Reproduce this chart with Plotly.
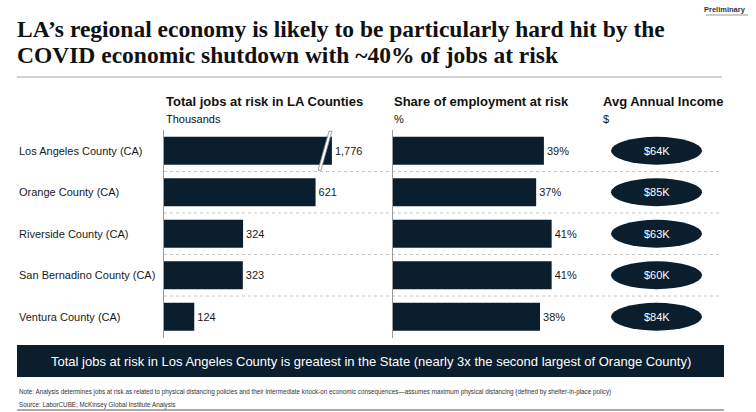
import plotly.graph_objects as go

# ---------------- data ----------------
counties = ["Los Angeles County (CA)", "Orange County (CA)", "Riverside County (CA)",
            "San Bernadino County (CA)", "Ventura County (CA)"]
jobs_at_risk_k = [1776, 621, 324, 323, 124]          # thousands
share_at_risk_pct = [39, 37, 41, 41, 38]             # %
avg_income_k = [64, 85, 63, 60, 84]                  # $K

title_lines = ["LA\u2019s regional economy is likely to be particularly hard hit by the",
               "COVID economic shutdown with ~40% of jobs at risk"]
headers = ["Total jobs at risk in LA Counties", "Share of employment at risk", "Avg Annual Income"]
units = ["Thousands", "%", "$"]
callout = ("Total jobs at risk in Los Angeles County is greatest in the State "
           "(nearly 3x the second largest of Orange County)")
note = ("Note: Analysis determines jobs at risk as related to physical distancing policies and their "
        "intermediate knock-on economic consequences\u2014assumes maximum physical distancing "
        "(defined by shelter-in-place policy)")
source = "Source: LaborCUBE; McKinsey Global Institute Analysis"

# ---------------- style ----------------
W, H = 756, 412
NAVY = "#0b1e2d"
TEXT = "#1a1a1a"
SANS = "Liberation Sans, Arial, sans-serif"
SERIF = "Liberation Serif, Times New Roman, serif"
BREAK_CAP = 688       # axis break: longest bar is drawn truncated here


def px(x):
    return x / W


def py(y):
    return 1 - y / H


rows = list(range(len(counties)))
display_jobs = [min(v, BREAK_CAP) for v in jobs_at_risk_k]

fig = go.Figure()

fig.add_trace(go.Bar(
    y=rows, x=display_jobs, orientation="h", xaxis="x", yaxis="y",
    marker=dict(color=NAVY, line=dict(width=0)), width=0.675,
    text=[f"{v:,}" for v in jobs_at_risk_k], textposition="outside",
    textfont=dict(family=SANS, size=11, color=TEXT), cliponaxis=False,
    constraintext="none", showlegend=False, hoverinfo="skip"))

fig.add_trace(go.Bar(
    y=rows, x=share_at_risk_pct, orientation="h", xaxis="x2", yaxis="y2",
    marker=dict(color=NAVY, line=dict(width=0)), width=0.675,
    text=[f"{v}%" for v in share_at_risk_pct], textposition="outside",
    textfont=dict(family=SANS, size=11, color=TEXT), cliponaxis=False,
    constraintext="none", showlegend=False, hoverinfo="skip"))

ydom = [py(337.5), py(130)]
yax = dict(domain=ydom, range=[4.5, -0.5], showgrid=False, zeroline=False,
           showticklabels=False, ticks="", showline=True, linecolor="#9a9a9a", linewidth=1)
xax = dict(showgrid=False, zeroline=False, showticklabels=False, ticks="", showline=False)

annotations = []
shapes = []

# title
for i, (line, cy) in enumerate(zip(title_lines, [29, 55])):
    annotations.append(dict(x=px(15), y=py(cy), xref="paper", yref="paper", xanchor="left",
                            yanchor="middle", showarrow=False, text=f"<b>{line}</b>",
                            font=dict(family=SERIF, size=23.5, color="#111111")))
annotations.append(dict(x=px(748), y=py(10), xref="paper", yref="paper", xanchor="right",
                        yanchor="middle", showarrow=False, text="<b>Preliminary</b>",
                        font=dict(family=SANS, size=7.5, color="#333333")))
shapes.append(dict(type="line", xref="paper", yref="paper", x0=px(706), x1=px(748),
                   y0=py(15), y1=py(15), line=dict(color="#999999", width=1)))
shapes.append(dict(type="line", xref="paper", yref="paper", x0=px(17), x1=px(722),
                   y0=py(77), y1=py(77), line=dict(color="#d2d2d2", width=2)))

# column headers
for hx, htxt, utxt in zip([164, 392, 601], headers, units):
    annotations.append(dict(x=px(hx), y=py(101), xref="paper", yref="paper", xanchor="left",
                            yanchor="middle", showarrow=False, text=f"<b>{htxt}</b>",
                            font=dict(family=SANS, size=13, color="#111111")))
    annotations.append(dict(x=px(hx), y=py(119), xref="paper", yref="paper", xanchor="left",
                            yanchor="middle", showarrow=False, text=utxt,
                            font=dict(family=SANS, size=11, color="#111111")))

# row labels, separators, income ovals
for i, (name, inc) in enumerate(zip(counties, avg_income_k)):
    annotations.append(dict(x=px(17), y=i, xref="paper", yref="y", xanchor="left",
                            yanchor="middle", showarrow=False, text=name,
                            font=dict(family=SANS, size=11, color=TEXT)))
    shapes.append(dict(type="circle", xref="paper", yref="y", x0=px(611), x1=px(702),
                       y0=i - 0.335, y1=i + 0.335, fillcolor=NAVY, line=dict(width=0),
                       layer="above"))
    annotations.append(dict(x=px(656.5), y=i, xref="paper", yref="y", xanchor="center",
                            yanchor="middle", showarrow=False, text=f"${inc}K",
                            font=dict(family=SANS, size=11, color="white")))
    if i < len(counties) - 1:
        shapes.append(dict(type="line", xref="paper", yref="y", x0=px(164), x1=px(720),
                           y0=i + 0.5, y1=i + 0.5, layer="below",
                           line=dict(color="#c4c4c4", width=1, dash="dot")))

# axis-break marker on the truncated bar
for i, v in enumerate(jobs_at_risk_k):
    if v > BREAK_CAP:
        top_x, bot_x, bw = BREAK_CAP - 12, BREAK_CAP - 57, 12
        shapes.append(dict(type="path", xref="x", yref="y",
                           path=(f"M {top_x},{i - 0.47} L {top_x + bw},{i - 0.47} "
                                 f"L {bot_x + bw},{i + 0.47} L {bot_x},{i + 0.47} Z"),
                           fillcolor="white", line=dict(color="#8a8a8a", width=0.8),
                           layer="above"))

# call-out box
shapes.append(dict(type="rect", xref="paper", yref="paper", x0=px(17), x1=px(724),
                   y0=py(377), y1=py(345), fillcolor=NAVY, line=dict(width=0)))
annotations.append(dict(x=px(370.5), y=py(361), xref="paper", yref="paper", xanchor="center",
                        yanchor="middle", showarrow=False, text=callout,
                        font=dict(family=SANS, size=13, color="white")))

# footnotes
annotations.append(dict(x=px(17), y=py(392), xref="paper", yref="paper", xanchor="left",
                        yanchor="middle", showarrow=False, text=note,
                        font=dict(family=SANS, size=6.3, color="#333333")))
annotations.append(dict(x=px(17), y=py(404.5), xref="paper", yref="paper", xanchor="left",
                        yanchor="middle", showarrow=False, text=source,
                        font=dict(family=SANS, size=6.3, color="#333333")))
shapes.append(dict(type="line", xref="paper", yref="paper", x0=px(17), x1=px(724),
                   y0=py(410), y1=py(410), line=dict(color="#555555", width=1)))

fig.update_layout(
    width=W, height=H, margin=dict(l=0, r=0, t=0, b=0),
    paper_bgcolor="white", plot_bgcolor="rgba(0,0,0,0)",
    bargap=0.3,
    xaxis=dict(domain=[px(164), px(380)], range=[0, 885], anchor="y", **xax),
    xaxis2=dict(domain=[px(393), px(600)], range=[0, 53.5], anchor="y2", **xax),
    yaxis=dict(anchor="x", **yax),
    yaxis2=dict(anchor="x2", **yax),
    annotations=annotations, shapes=shapes,
)

fig.write_html("out.html", config={"displayModeBar": False, "staticPlot": True},
               post_script="document.body.style.margin='0';document.body.style.padding='0';"
                           "document.body.style.overflow='hidden';")
